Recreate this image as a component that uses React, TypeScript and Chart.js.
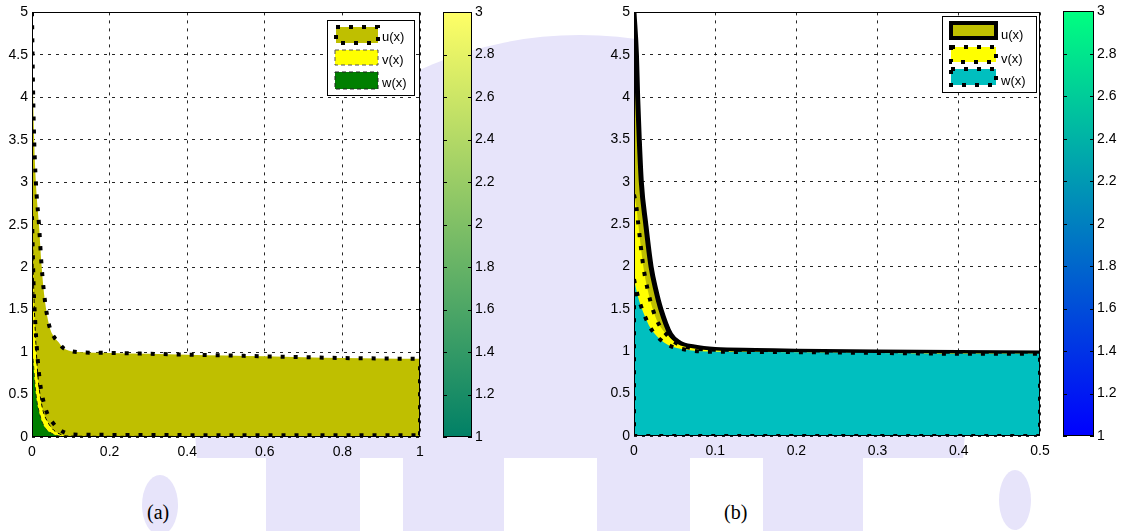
import React, { useEffect, useRef } from 'react';
import { Chart, registerables } from 'chart.js';
Chart.register(...registerables);

// ---------- Panel (a) data ----------
const A_X_TICK_STEP = 0.2;
const A_U_X = [0, 0.002, 0.005, 0.01, 0.018, 0.025, 0.034, 0.045, 0.058, 0.068, 0.08, 0.094, 0.12, 0.2, 0.3, 0.4, 0.5, 0.6, 0.7, 0.8, 0.9, 1.0];
const A_U_Y = [5, 4.3, 3.6, 3.0, 2.5, 2.0, 1.58, 1.3, 1.17, 1.12, 1.05, 1.02, 1.0, 0.99, 0.98, 0.97, 0.96, 0.95, 0.94, 0.93, 0.925, 0.92];
const A_ULOW_X = [0, 0.004, 0.009, 0.015, 0.021, 0.029, 0.04, 0.055, 0.07, 0.085, 0.1, 0.2, 0.4, 0.6, 0.8, 1.0];
const A_ULOW_Y = [2.6, 1.8, 1.3, 0.9, 0.63, 0.43, 0.27, 0.16, 0.09, 0.05, 0.03, 0.025, 0.022, 0.02, 0.02, 0.02];
const A_V_X = [0, 0.002, 0.005, 0.01, 0.016, 0.022, 0.029, 0.04, 0.05, 0.06, 0.075, 0.09, 0.2, 0.5, 1.0];
const A_V_Y = [2.7, 2.2, 1.65, 1.1, 0.68, 0.46, 0.3, 0.18, 0.11, 0.065, 0.028, 0.012, 0.008, 0.006, 0.005];
const A_W_X = [0, 0.003, 0.007, 0.012, 0.018, 0.025, 0.035, 0.05, 0.07, 0.1, 0.4, 0.72, 1.0];
const A_W_Y = [1.0, 0.9, 0.65, 0.44, 0.3, 0.19, 0.1, 0.045, 0.012, 0.006, 0.005, 0.004, 0.002];
const A_EDGE_X = [1, 1];
const A_EDGE_Y = [0.02, 0.92];

// ---------- Panel (b) data ----------
const B_X_TICK_STEP = 0.1;
const B_U_X = [0, 0.003, 0.0045, 0.0065, 0.009, 0.0145, 0.021, 0.027, 0.033, 0.045, 0.056, 0.074, 0.1, 0.15, 0.2, 0.35, 0.5];
const B_U_Y = [5, 4.5, 4.0, 3.5, 3.0, 2.5, 2.0, 1.72, 1.5, 1.2, 1.1, 1.05, 1.02, 1.01, 1.0, 0.99, 0.98];
const B_V_X = [0, 0.003, 0.0053, 0.0115, 0.017, 0.023, 0.03, 0.04, 0.053, 0.07, 0.1, 0.2, 0.5];
const B_V_Y = [2.85, 2.7, 2.5, 2.0, 1.72, 1.5, 1.33, 1.2, 1.09, 1.04, 1.01, 0.99, 0.97];
const B_W_X = [0, 0.004, 0.008, 0.014, 0.02, 0.026, 0.036, 0.048, 0.057, 0.08, 0.1, 0.2, 0.3, 0.35, 0.4, 0.5];
const B_W_Y = [1.85, 1.68, 1.55, 1.4, 1.28, 1.2, 1.11, 1.05, 1.03, 1.0, 0.995, 0.99, 0.98, 0.975, 0.97, 0.97];
const B_EDGE_X = [0, 0, 0.5, 0.5];
const B_EDGE_Y = [1.85, 0, 0, 0.97];

// ---------- axes / colorbars ----------
const Y_MIN = 0, Y_MAX = 5, Y_STEP = 0.5;
const CB_MIN = 1, CB_MAX = 3, CB_STEP = 0.2;
const CB_A_COLORS = ['rgb(0,128,102)', 'rgb(255,255,102)'];
const CB_B_COLORS = ['rgb(0,0,255)', 'rgb(0,255,128)'];
const SERIES_LABELS = ['u(x)', 'v(x)', 'w(x)'];
const PANEL_LABELS = ['(a)', '(b)'];

const OLIVE = 'rgb(191,191,0)';
const YELLOW = 'rgb(255,255,0)';
const GREEN = 'rgb(0,127,0)';
const CYAN = 'rgb(0,191,191)';
const FONT = "'Liberation Sans', Arial, Helvetica, sans-serif";

const pts = (xs: number[], ys: number[]) => xs.map((x, i) => ({ x, y: ys[i] }));
const fmt = (v: any) => String(parseFloat(Number(v).toFixed(3)));

const DOT = [4, 9];

const plotBgFrame = {
  id: 'plotBgFrame',
  beforeDraw(chart: any) {
    const { ctx, chartArea: a } = chart;
    ctx.save();
    ctx.fillStyle = '#fff';
    ctx.fillRect(a.left, a.top, a.right - a.left, a.bottom - a.top);
    ctx.restore();
  },
  afterDatasetsDraw(chart: any) {
    const { ctx, chartArea: a } = chart;
    ctx.save();
    ctx.strokeStyle = '#000';
    ctx.lineWidth = 1;
    ctx.setLineDash([]);
    ctx.strokeRect(Math.round(a.left) + 0.5, Math.round(a.top) + 0.5, Math.round(a.right - a.left) - 1, Math.round(a.bottom - a.top) - 1);
    ctx.restore();
  },
};

type LegItem = { label: string; fill: string; stroke: string; lw: number; dash: number[]; sx: number; sy: number; sw: number; sh: number; tx: number; ty: number };

function legendPlugin(box: { x: number; y: number; w: number; h: number }, items: LegItem[]) {
  return {
    id: 'boxLegend',
    afterDraw(chart: any) {
      const ctx = chart.ctx;
      ctx.save();
      ctx.fillStyle = '#fff';
      ctx.fillRect(box.x, box.y, box.w, box.h);
      ctx.strokeStyle = '#000';
      ctx.lineWidth = 1;
      ctx.setLineDash([]);
      ctx.strokeRect(box.x + 0.5, box.y + 0.5, box.w, box.h);
      for (const it of items) {
        ctx.fillStyle = it.fill;
        ctx.fillRect(it.sx, it.sy, it.sw, it.sh);
        ctx.strokeStyle = it.stroke;
        ctx.lineWidth = it.lw;
        ctx.setLineDash(it.dash);
        ctx.strokeRect(it.sx, it.sy, it.sw, it.sh);
        ctx.setLineDash([]);
        ctx.fillStyle = '#000';
        ctx.font = `13px ${FONT}`;
        ctx.textBaseline = 'middle';
        ctx.textAlign = 'left';
        ctx.fillText(it.label, it.tx, it.ty);
      }
      ctx.restore();
    },
  };
}

const colorbarDeco = {
  id: 'cbDeco',
  afterDatasetsDraw(chart: any) {
    const { ctx, chartArea: a } = chart;
    const s = chart.scales.y;
    ctx.save();
    ctx.strokeStyle = '#000';
    ctx.lineWidth = 1;
    for (const t of s.ticks) {
      const y = Math.round(s.getPixelForValue(t.value)) + 0.5;
      ctx.beginPath();
      ctx.moveTo(a.left, y); ctx.lineTo(a.left + 4, y);
      ctx.moveTo(a.right - 4, y); ctx.lineTo(a.right, y);
      ctx.stroke();
    }
    ctx.strokeRect(Math.round(a.left) + 0.5, Math.round(a.top) + 0.5, Math.round(a.right - a.left) - 1, Math.round(a.bottom - a.top) - 1);
    ctx.restore();
  },
};

function plotOptions(xMax: number, xStep: number, yAxisW: number, xAxisH: number, padTop: number, padRight: number) {
  const tickFont = { family: FONT, size: 14 };
  return {
    animation: false,
    responsive: false,
    devicePixelRatio: 1,
    layout: { padding: { top: padTop, right: padRight, left: 0, bottom: 0 } },
    plugins: { legend: { display: false }, tooltip: { enabled: false } },
    elements: { point: { radius: 0 }, line: { tension: 0 } },
    scales: {
      x: {
        type: 'linear', min: 0, max: xMax,
        ticks: { stepSize: xStep, font: tickFont, color: '#000', padding: 7, maxRotation: 0, autoSkip: false, callback: fmt },
        grid: { color: 'rgba(0,0,0,0.85)', lineWidth: 1, drawTicks: false },
        border: { display: false, dash: [3, 5] },
        afterFit: (s: any) => { s.height = xAxisH; },
      },
      y: {
        type: 'linear', min: Y_MIN, max: Y_MAX,
        ticks: { stepSize: Y_STEP, font: tickFont, color: '#000', padding: 4, autoSkip: false, callback: fmt },
        grid: { color: 'rgba(0,0,0,0.85)', lineWidth: 1, drawTicks: false },
        border: { display: false, dash: [3, 5] },
        afterFit: (s: any) => { s.width = yAxisW; },
      },
    },
  };
}

function cbConfig(colors: string[], padTop: number, padBottom: number, axisW: number) {
  return {
    type: 'bar',
    data: {
      labels: [''],
      datasets: [{
        data: [[CB_MIN, CB_MAX]],
        backgroundColor: (c: any) => {
          const area = c.chart.chartArea;
          if (!area) return colors[0];
          const g = c.chart.ctx.createLinearGradient(0, area.bottom, 0, area.top);
          g.addColorStop(0, colors[0]);
          g.addColorStop(1, colors[1]);
          return g;
        },
        borderWidth: 0,
        barPercentage: 1,
        categoryPercentage: 1,
      }],
    },
    options: {
      animation: false,
      responsive: false,
      devicePixelRatio: 1,
      layout: { padding: { top: padTop, bottom: padBottom, left: 0, right: 0 } },
      plugins: { legend: { display: false }, tooltip: { enabled: false } },
      scales: {
        x: { display: false },
        y: {
          position: 'right', min: CB_MIN, max: CB_MAX,
          ticks: { stepSize: CB_STEP, font: { family: FONT, size: 14 }, color: '#000', padding: 3, autoSkip: false, callback: fmt },
          grid: { display: false, drawTicks: false },
          border: { display: false },
          afterFit: (s: any) => { s.width = axisW; },
        },
      },
    },
    plugins: [colorbarDeco],
  };
}

function useChart(ref: React.RefObject<HTMLCanvasElement>, makeConfig: () => any) {
  useEffect(() => {
    if (!ref.current) return;
    const ch = new Chart(ref.current, makeConfig());
    return () => ch.destroy();
  }, []);
}

export default function App() {
  const aRef = useRef<HTMLCanvasElement>(null);
  const bRef = useRef<HTMLCanvasElement>(null);
  const cbaRef = useRef<HTMLCanvasElement>(null);
  const cbbRef = useRef<HTMLCanvasElement>(null);

  useChart(aRef, () => ({
    type: 'line',
    data: {
      datasets: [
        { label: 'edge', data: pts(A_EDGE_X, A_EDGE_Y), borderColor: '#000', borderWidth: 4, borderDash: DOT, fill: false },
        { label: 'u low', data: pts(A_ULOW_X, A_ULOW_Y), borderColor: '#000', borderWidth: 4, borderDash: DOT, fill: false, cubicInterpolationMode: 'monotone' },
        { label: SERIES_LABELS[2], data: pts(A_W_X, A_W_Y), borderColor: '#1a3a1a', borderWidth: 1, borderDash: [4, 3], backgroundColor: GREEN, fill: 'origin', cubicInterpolationMode: 'monotone' },
        { label: SERIES_LABELS[1], data: pts(A_V_X, A_V_Y), borderColor: '#000', borderWidth: 1, borderDash: [4, 3], backgroundColor: YELLOW, fill: 'origin', cubicInterpolationMode: 'monotone' },
        { label: SERIES_LABELS[0], data: pts(A_U_X, A_U_Y), borderColor: '#000', borderWidth: 4, borderDash: DOT, backgroundColor: OLIVE, fill: 'origin', cubicInterpolationMode: 'monotone' },
      ],
    },
    options: plotOptions(1, A_X_TICK_STEP, 32, 28, 12, 20),
    plugins: [
      plotBgFrame,
      legendPlugin({ x: 327, y: 20, w: 87, h: 75 }, [
        { label: SERIES_LABELS[0], fill: OLIVE, stroke: '#000', lw: 4, dash: DOT, sx: 336, sy: 27, sw: 42, sh: 16, tx: 382, ty: 37 },
        { label: SERIES_LABELS[1], fill: YELLOW, stroke: '#555', lw: 1, dash: [4, 3], sx: 335, sy: 50, sw: 43, sh: 15, tx: 382, ty: 60 },
        { label: SERIES_LABELS[2], fill: GREEN, stroke: '#222', lw: 1, dash: [4, 3], sx: 335, sy: 72, sw: 43, sh: 17, tx: 382, ty: 83 },
      ]),
    ],
  }));

  useChart(bRef, () => ({
    type: 'line',
    data: {
      datasets: [
        { label: 'edge', data: pts(B_EDGE_X, B_EDGE_Y), borderColor: '#000', borderWidth: 4, borderDash: DOT, fill: false },
        { label: SERIES_LABELS[2], data: pts(B_W_X, B_W_Y), borderColor: '#000', borderWidth: 4, borderDash: DOT, backgroundColor: CYAN, fill: 'origin', cubicInterpolationMode: 'monotone' },
        { label: SERIES_LABELS[1], data: pts(B_V_X, B_V_Y), borderColor: '#000', borderWidth: 4, borderDash: DOT, backgroundColor: YELLOW, fill: 'origin', cubicInterpolationMode: 'monotone' },
        { label: SERIES_LABELS[0], data: pts(B_U_X, B_U_Y), borderColor: '#000', borderWidth: 5, backgroundColor: OLIVE, fill: 'origin', cubicInterpolationMode: 'monotone' },
      ],
    },
    options: plotOptions(0.5, B_X_TICK_STEP, 34, 29, 9, 20),
    plugins: [
      plotBgFrame,
      legendPlugin({ x: 342, y: 16, w: 94, h: 76 }, [
        { label: SERIES_LABELS[0], fill: OLIVE, stroke: '#000', lw: 4, dash: [], sx: 351, sy: 23, sw: 45, sh: 15, tx: 401, ty: 35 },
        { label: SERIES_LABELS[1], fill: YELLOW, stroke: '#000', lw: 4, dash: DOT, sx: 351, sy: 47, sw: 45, sh: 15, tx: 401, ty: 59 },
        { label: SERIES_LABELS[2], fill: CYAN, stroke: '#000', lw: 4, dash: DOT, sx: 351, sy: 69, sw: 45, sh: 16, tx: 401, ty: 81 },
      ]),
    ],
  }));

  useChart(cbaRef, () => cbConfig(CB_A_COLORS, 12, 28, 31));
  useChart(cbbRef, () => cbConfig(CB_B_COLORS, 9, 29, 30));

  const abs = (left: number, top: number): React.CSSProperties => ({ position: 'absolute', left, top });
  const lav = '#e7e4fa';

  return (
    <div style={{ position: 'absolute', left: 0, top: 0, width: 1124, height: 531, background: '#fff', overflow: 'hidden' }}>
      <svg width={1124} height={531} style={abs(0, 0)}>
        <circle cx={580} cy={420} r={385} fill={lav} />
        <rect x={0} y={458} width={266} height={73} fill="#fff" />
        <rect x={360} y={458} width={43} height={73} fill="#fff" />
        <rect x={504} y={458} width={93} height={73} fill="#fff" />
        <rect x={690} y={458} width={73} height={73} fill="#fff" />
        <rect x={863} y={458} width={261} height={73} fill="#fff" />
        <ellipse cx={160} cy={505} rx={18} ry={30} fill={lav} />
        <ellipse cx={1015} cy={500} rx={16} ry={30} fill={lav} />
      </svg>
      <canvas ref={aRef} width={440} height={465} style={abs(0, 0)} />
      <canvas ref={cbaRef} width={60} height={465} style={abs(443, 0)} />
      <canvas ref={bRef} width={460} height={465} style={abs(600, 0)} />
      <canvas ref={cbbRef} width={61} height={465} style={abs(1063, 0)} />
      <div style={{ ...abs(147, 501), fontFamily: "'Liberation Serif', 'Times New Roman', serif", fontSize: 20 }}>{PANEL_LABELS[0]}</div>
      <div style={{ ...abs(724, 501), fontFamily: "'Liberation Serif', 'Times New Roman', serif", fontSize: 20 }}>{PANEL_LABELS[1]}</div>
    </div>
  );
}
